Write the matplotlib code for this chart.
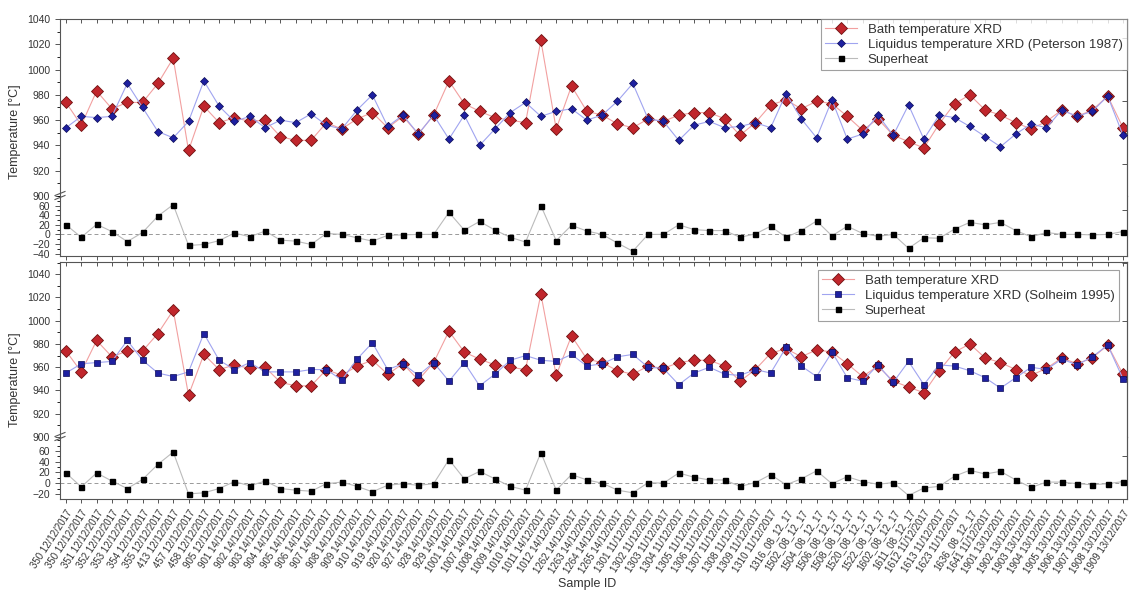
import numpy as np
import matplotlib.pyplot as plt
from matplotlib.lines import Line2D
from matplotlib.ticker import MultipleLocator, FixedLocator

plt.rcParams['font.family'] = ['Liberation Sans', 'DejaVu Sans']

sample_ids = [
    "350 12/12/2017", "350 12/12/2017", "351 12/12/2017", "352 12/12/2017",
    "353 12/12/2017", "354 12/12/2017", "355 12/12/2017", "413 12/12/2017",
    "457 12/12/2017", "458 12/12/2017", "905 12/12/2017",
    "901 14/12/2017", "902 14/12/2017", "903 14/12/2017", "904 14/12/2017",
    "905 14/12/2017", "906 14/12/2017", "907 14/12/2017", "908 14/12/2017",
    "909 14/12/2017", "910 14/12/2017", "919 14/12/2017", "920 14/12/2017",
    "927 14/12/2017", "928 14/12/2017", "929 14/12/2017",
    "1001 14/12/2017", "1007 14/12/2017", "1008 14/12/2017", "1009 14/12/2017",
    "1010 14/12/2017", "1011 14/12/2017", "1012 14/12/2017",
    "1262 14/12/2017", "1263 14/12/2017", "1264 14/12/2017", "1265 14/12/2017",
    "1301 11/12/2017", "1302 11/12/2017", "1303 11/12/2017", "1304 11/12/2017",
    "1305 11/12/2017", "1306 11/12/2017", "1307 11/12/2017", "1308 11/12/2017",
    "1309 11/12/2017", "1310 11/12/2017",
    "1316_08_12_17", "1502_08_12_17", "1504_08_12_17", "1506_08_12_17",
    "1508_08_12_17", "1520_08_12_17", "1522_08_12_17", "1602_08_12_17",
    "1611_08_12_17",
    "1612 11/12/2017", "1613 11/12/2017", "1623 11/12/2017",
    "1636_08_12_17", "1641 11/12/2017",
    "1901 13/12/2017", "1902 13/12/2017", "1903 13/12/2017", "1904 13/12/2017",
    "1905 13/12/2017", "1906 13/12/2017", "1907 13/12/2017", "1908 13/12/2017",
    "1909 13/12/2017",
]

bath_xrd = [974, 956, 983, 969, 974, 974, 989, 1009, 936, 971,
            958, 962, 959, 960, 947, 944, 944, 958, 953, 961,
            966, 954, 963, 949, 964, 991, 973, 967, 962, 960,
            958, 1023, 953, 987, 967, 964, 957, 954, 961, 959,
            964, 966, 966, 961, 948, 958, 972, 976, 969, 975,
            973, 963, 952, 961, 948, 943, 938, 957, 973, 980,
            968, 964, 958, 953, 959, 968, 963, 968, 979, 954]

liq_peterson = [954, 963, 962, 963, 989, 970, 951, 946, 959, 991,
                971, 959, 963, 954, 960, 958, 965, 956, 953, 968,
                980, 955, 964, 949, 964, 945, 964, 940, 953, 966,
                974, 963, 967, 969, 960, 964, 975, 989, 961, 959,
                944, 956, 959, 954, 955, 958, 954, 981, 961, 946,
                976, 945, 949, 964, 948, 972, 945, 964, 962, 955,
                947, 939, 949, 957, 954, 968, 963, 967, 979, 948]

sup_peterson = [20, -6, 21, 6, -15, 4, 38, 62, -23, -21,
                -13, 3, -5, 7, -12, -14, -21, 2, 0, -7,
                -14, -2, -1, 0, 0, 46, 9, 27, 9, -6,
                -16, 60, -13, 19, 7, 0, -18, -35, 0, 0,
                20, 10, 8, 8, -6, 1, 17, -6, 8, 28,
                -3, 17, 2, -4, 0, -29, -7, -8, 11, 25,
                20, 25, 8, -5, 4, 0, 0, -1, 0, 6]

liq_solheim = [955, 963, 964, 965, 983, 966, 955, 952, 956, 989,
               966, 958, 964, 956, 956, 956, 958, 958, 949, 967,
               981, 958, 963, 953, 964, 948, 964, 944, 954, 966,
               970, 966, 965, 971, 961, 963, 969, 971, 960, 959,
               945, 955, 960, 954, 953, 958, 955, 977, 961, 952,
               973, 951, 948, 962, 947, 965, 945, 962, 961, 957,
               951, 942, 951, 960, 958, 967, 962, 969, 979, 950]

sup_solheim = [19, -7, 19, 4, -10, 7, 35, 58, -20, -18,
               -10, 3, -5, 4, -10, -13, -15, -1, 2, -6,
               -16, -4, -1, -4, -1, 44, 8, 22, 8, -6,
               -13, 57, -13, 16, 6, 0, -13, -18, 1, 0,
               19, 11, 6, 6, -6, 1, 16, -3, 8, 23,
               -1, 12, 3, -2, 1, -23, -9, -6, 13, 24,
               17, 22, 6, -8, 2, 2, -1, -3, -1, 3]

W, H = 1131, 592
x = np.arange(len(sample_ids))

fig = plt.figure(figsize=(W / 100, H / 100), dpi=100)

RED = '#c0262c'
RED_LINE = '#f2a0a0'
BLUE = '#1e20a0'
BLUE_LINE = '#a0a4f0'
AX_COL = '#555555'


def style_axis(ax):
    for s in ax.spines.values():
        s.set_color(AX_COL)
        s.set_linewidth(0.8)
    ax.tick_params(colors=AX_COL, labelcolor='#333333', labelsize=7.5,
                   width=0.7)
    right = ax.secondary_yaxis('right')
    right.spines['right'].set_color(AX_COL)
    right.spines['right'].set_linewidth(0.8)
    right.tick_params(axis='y', which='both', direction='in', labelright=False,
                      colors=AX_COL, width=0.7)
    return right


def draw_panel(top_px, brk_px, bot_px, up_lim, low_lim, low_ticks,
               liq, sup, liq_marker, liq_ms, liq_label, legend_pad, labels):
    L, R = 60 / W, 1127 / W
    ax_u = fig.add_axes([L, 1 - brk_px / H, R - L, (brk_px - top_px) / H])
    ax_l = fig.add_axes([L, 1 - bot_px / H, R - L, (bot_px - brk_px) / H],
                        sharex=ax_u)

    h_bath, = ax_u.plot(x, bath_xrd, '-', color=RED_LINE, lw=0.8,
                        marker='D', ms=6, mfc=RED, mec='#701010', mew=0.6,
                        label='Bath temperature XRD', zorder=2)
    h_liq, = ax_u.plot(x, liq, '-', color=BLUE_LINE, lw=0.8,
                       marker=liq_marker, ms=liq_ms, mfc=BLUE, mec='#0a0a55',
                       mew=0.5, label=liq_label, zorder=3)
    ax_l.axhline(0, color='#999999', lw=0.7, ls=(0, (4, 3)), zorder=1)
    h_sup, = ax_l.plot(x, sup, '-', color='#bbbbbb', lw=0.8, marker='s',
                       ms=3.6, mfc='black', mec='black', label='Superheat',
                       zorder=3)

    ax_u.set_xlim(-0.39, len(x) - 1 + 0.26)
    ax_u.set_ylim(*up_lim)
    ax_l.set_ylim(*low_lim)

    ax_u.yaxis.set_major_locator(FixedLocator(np.arange(900, 1041, 20)))
    ax_u.yaxis.set_minor_locator(MultipleLocator(10))
    ax_l.yaxis.set_major_locator(FixedLocator(low_ticks))
    ax_l.yaxis.set_minor_locator(MultipleLocator(10))

    ax_u.spines['bottom'].set_visible(False)
    ax_l.spines['top'].set_visible(False)

    for ax in (ax_u, ax_l):
        rs = style_axis(ax)
        ax.tick_params(axis='y', which='major', direction='out', length=3.5)
        ax.tick_params(axis='y', which='minor', direction='out', length=2)
        rs.tick_params(axis='y', which='major', length=3.5)
        rs.tick_params(axis='y', which='minor', length=2)

    ax_u.set_xticks(x)
    ax_u.tick_params(axis='x', which='both', bottom=False, top=True,
                     direction='in', length=3, labelbottom=False)
    ax_l.tick_params(axis='x', which='both', bottom=True, top=False,
                     direction='out', length=3)
    if labels:
        ax_l.set_xticklabels(sample_ids, rotation=57, ha='right',
                             rotation_mode='anchor', fontsize=7)
    else:
        ax_l.tick_params(axis='x', labelbottom=False)

    # axis break marks on the left spine
    for dy in (-2.5, 1.5):
        fig.add_artist(Line2D([55 / W, 65 / W],
                              [1 - (brk_px + dy + 2) / H, 1 - (brk_px + dy - 2) / H],
                              color=AX_COL, lw=0.8))

    leg = ax_u.legend([h_bath, h_liq, h_sup],
                      [h_bath.get_label(), h_liq.get_label(), h_sup.get_label()],
                      loc='upper right', borderaxespad=legend_pad, fontsize=9.5,
                      frameon=True, fancybox=False, edgecolor='#888888',
                      labelspacing=0.2, handlelength=2.4, borderpad=0.35)
    leg.get_frame().set_linewidth(0.8)
    for t in leg.get_texts():
        t.set_color('#333333')
    return ax_u, ax_l


draw_panel(19, 196, 256, (900, 1040), (-45, 80), [-40, -20, 0, 20, 40, 60],
           liq_peterson, sup_peterson, 'D', 4.5,
           'Liquidus temperature XRD (Peterson 1987)', 0.0, False)
draw_panel(262, 437, 499, (900, 1050.5), (-29.5, 86), [-20, 0, 20, 40, 60],
           liq_solheim, sup_solheim, 's', 4.5,
           'Liquidus temperature XRD (Solheim 1995)', 0.6, True)

fig.text(15 / W, 1 - 132 / H, 'Temperature [°C]', rotation=90, ha='center',
         va='center', fontsize=9, color='#333333')
fig.text(15 / W, 1 - 380 / H, 'Temperature [°C]', rotation=90, ha='center',
         va='center', fontsize=9, color='#333333')
fig.text(587 / W, 1 - 584 / H, 'Sample ID', ha='center', va='center',
         fontsize=9, color='#333333')

fig.savefig('out.png', dpi=100)
